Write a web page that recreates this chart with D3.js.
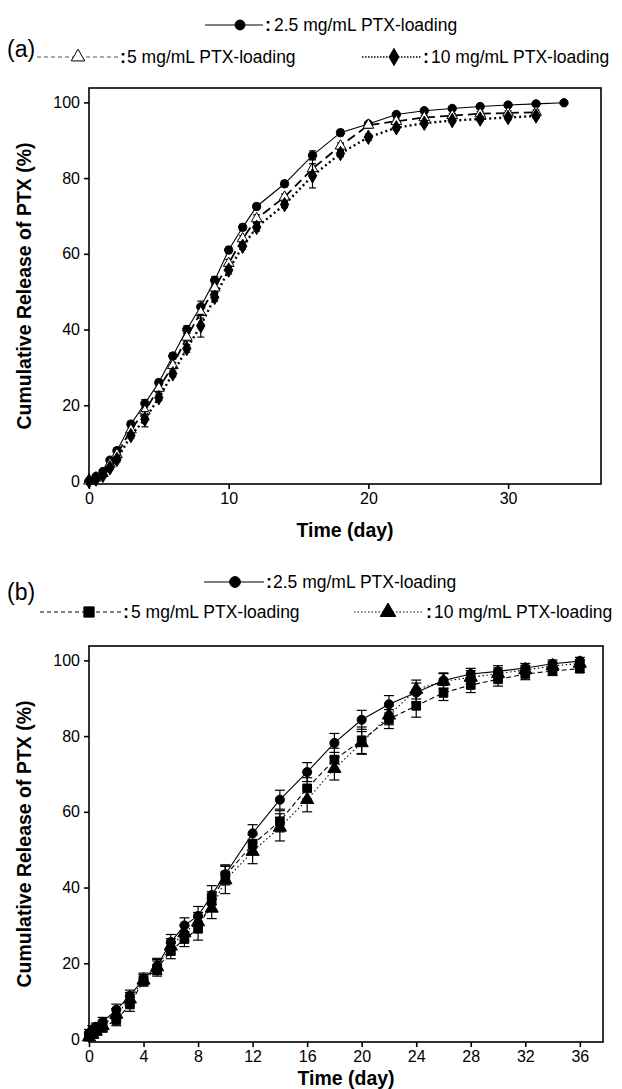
<!DOCTYPE html>
<html><head><meta charset="utf-8">
<script src="https://cdn.jsdelivr.net/npm/d3@7/dist/d3.min.js"></script>
<style>
body{margin:0;background:#fff}
svg{display:block}
text{font-family:"Liberation Sans",Arial,sans-serif;fill:#000}
</style>
</head><body>
<svg id="c" width="622" height="1089"></svg>
<script>
// ---------- Panel (a) data ----------
const daysA   = [0,0.5,1,1.5,2,3,4,5,6,7,8,9,10,11,12,14,16,18,20,22,24,26,28,30,32,34];
const a25     = [0,1.2,2.5,5.5,8,15,20.5,26,33,40,46,53,61,67,72.5,78.5,86,92,94.3,96.8,97.8,98.4,98.9,99.3,99.6,99.9];
const a25Err  = [0.3,0.4,0.5,0.6,0.8,0.8,1,0.8,0.8,1,1.5,1,0.8,0.8,0.8,0.8,1.2,0.8,0.6,0.5,0.5,0.5,0.5,0.5,0.5,0.4];
const daysA2  = [0,0.5,1,1.5,2,3,4,5,6,7,8,9,10,11,12,14,16,18,20,22,24,26,28,30,32];
const a5      = [0,0.8,2,4.5,7,13.5,18.5,24.5,30.5,38,44.5,51,57.5,64,69.3,75,82.5,88.5,94,95,96,96.5,97,97.2,97.4];
const a5Err   = [0.3,0.4,0.5,0.6,0.8,0.8,1.5,0.8,0.8,1,1.5,1,1,0.8,1,0.8,2.5,0.8,0.8,0.6,0.6,0.6,0.6,0.6,0.6];
const a10     = [0,0.5,1.5,3.5,5.7,12,16.3,22,28.3,35,41,48.5,55.7,62,67,73,80.6,86.5,90.8,93.3,94.5,95.2,95.6,96,96.4];
const a10Err  = [0.3,0.4,0.5,0.6,0.8,0.8,2,0.8,0.8,1,3,1,1,0.8,1,0.8,3.2,0.8,0.8,0.6,0.6,0.6,0.6,0.6,0.6];
const xTicksA = [0,10,20,30];
const yTicks  = [0,20,40,60,80,100];

// ---------- Panel (b) data ----------
const daysB   = [0,0.25,0.5,1,2,3,4,5,6,7,8,9,10,12,14,16,18,20,22,24,26,28,30,32,34,36];
const b25     = [1.5,2.5,3.2,4.5,7.7,11.4,15.9,19.3,25.6,30,32.5,38,43.5,54.3,63.2,70.5,78.2,84.3,88.4,91.5,94.7,96.4,97.1,98,99.1,99.8];
const b25Err  = [1,1,1,1.2,1.5,1.5,1.5,2,2,2,2.5,2.5,2.5,2.3,2.5,2.5,2.5,2.5,2.3,2.5,2,1.5,1.5,1.2,1,1];
const b5      = [0.8,1.5,2.2,3,5,9.1,15.5,18.6,23.2,26.4,29.1,36.4,43.2,51.4,57.5,66.2,73.8,78.9,84.5,88,91.4,93.5,95,96.4,97.2,97.8];
const b5Err   = [1,1,1,1.2,1.5,1.8,1.5,2,2,2,3,2.5,2.5,2.5,2.8,2.8,3,3.5,2.5,3,2,2,1.8,1.5,1.2,1];
const b10     = [0.5,1.2,2,3.5,6.5,10.5,15.5,19,24.5,28,30.9,34.5,42,49.5,55.9,63.2,71.4,78.2,85.5,92.3,94.5,95.5,96.5,97.5,98.5,99.2];
const b10Err  = [1,1,1,1.2,1.5,1.8,1.5,2,2,2,2.5,2.7,3.6,3.2,3.6,3.2,3,3,2.5,2.5,2,1.8,1.5,1.2,1,1];
const xTicksB = [0,4,8,12,16,20,24,28,32,36];

const svg = d3.select("#c");

function panel(cfg){
  const x = d3.scaleLinear().domain(cfg.xDomain).range([cfg.left, cfg.right]);
  const y = d3.scaleLinear().domain([-0.8,103.8]).range([cfg.bottom, cfg.top]);
  const g = svg.append("g");

  cfg.series.forEach(s=>{
    const pts = s.days.map((d,i)=>({d, v:s.vals[i], e:s.errs[i]}));
    g.append("path").datum(pts)
      .attr("fill","none").attr("stroke","#000")
      .attr("stroke-width",s.lw).attr("stroke-dasharray",s.dash||null)
      .attr("d", d3.line().x(p=>x(p.d)).y(p=>y(p.v)));
    const eb = g.append("g").attr("stroke","#000").attr("stroke-width",1.2);
    pts.forEach(p=>{
      eb.append("line").attr("x1",x(p.d)).attr("x2",x(p.d)).attr("y1",y(p.v-p.e)).attr("y2",y(p.v+p.e));
      [p.v-p.e,p.v+p.e].forEach(w=>eb.append("line").attr("x1",x(p.d)-cfg.cap).attr("x2",x(p.d)+cfg.cap).attr("y1",y(w)).attr("y2",y(w)));
    });
    g.append("g").selectAll("path").data(pts).join("path")
      .attr("transform",p=>`translate(${x(p.d)},${y(p.v)})`)
      .attr("d", d3.symbol().type(s.sym).size(s.size))
      .attr("fill", s.open ? "#fff" : "#000").attr("stroke","#000").attr("stroke-width",1);
  });

  g.append("rect").attr("x",cfg.left).attr("y",cfg.top)
    .attr("width",cfg.right-cfg.left).attr("height",cfg.bottom-cfg.top)
    .attr("fill","none").attr("stroke","#000").attr("stroke-width",1.6);

  const ax = g.append("g").attr("transform",`translate(0,${cfg.bottom})`)
    .call(d3.axisBottom(x).tickValues(cfg.xTicks).tickSize(5).tickPadding(4).tickSizeOuter(0));
  const ay = g.append("g").attr("transform",`translate(${cfg.left},0)`)
    .call(d3.axisLeft(y).tickValues(yTicks).tickSize(5).tickPadding(4).tickSizeOuter(0));
  [ax,ay].forEach(a=>{
    a.select(".domain").remove();
    a.selectAll(".tick line").attr("stroke","#000").attr("stroke-width",1.6);
    a.selectAll(".tick text").attr("font-size",16).attr("font-family","Liberation Sans, Arial, sans-serif").attr("fill","#000");
  });

  svg.append("text").attr("x",(cfg.left+cfg.right)/2).attr("y",cfg.xTitleY)
    .attr("text-anchor","middle").attr("font-weight","bold").attr("font-size",19.5).text("Time (day)");
  svg.append("text").attr("transform",`translate(31,${(cfg.top+cfg.bottom)/2}) rotate(-90)`)
    .attr("text-anchor","middle").attr("font-weight","bold").attr("font-size",19.5).text("Cumulative Release of PTX (%)");
  svg.append("text").attr("x",7).attr("y",cfg.tagY).attr("font-size",23).text(cfg.tag);

  cfg.legend.forEach(L=>{
    const s = cfg.series[L.s];
    svg.append("line").attr("x1",L.x1).attr("x2",L.x2).attr("y1",L.y).attr("y2",L.y)
      .attr("stroke",L.color||"#000").attr("stroke-width",L.lw||s.lw).attr("stroke-dasharray",L.dash||s.dash||null);
    svg.append("path").attr("transform",`translate(${L.mx},${L.y})`)
      .attr("d", d3.symbol().type(s.sym).size(L.msize||s.size*1.4))
      .attr("fill", s.open ? "#fff" : "#000").attr("stroke","#000").attr("stroke-width",1);
    svg.append("text").attr("x",L.x2+2).attr("y",L.y+6).attr("font-size",18).attr("font-weight","bold").text(":");
    svg.append("text").attr("x",L.tx).attr("y",L.y+6).attr("font-size",17.5).text(L.text);
  });
}

panel({
  left:89, right:601, top:88, bottom:484, xDomain:[0,36.65], xTicks:xTicksA, cap:3.5,
  xTitleY:537, tagY:57, tag:"(a)",
  series:[
    {days:daysA,  vals:a25, errs:a25Err, sym:d3.symbolCircle,   size:55, lw:1.1},
    {days:daysA2, vals:a5,  errs:a5Err,  sym:d3.symbolTriangle, size:50, lw:1.8, dash:"9,5", open:true},
    {days:daysA2, vals:a10, errs:a10Err, sym:d3.symbolDiamond,  size:60, lw:2.4, dash:"2,3"}
  ],
  legend:[
    {s:0, x1:205, x2:263, mx:240, y:25, tx:274, text:"2.5 mg/mL PTX-loading"},
    {s:1, x1:37,  x2:118, mx:78,  y:57, tx:127, text:"5 mg/mL PTX-loading", color:"#555", lw:1, dash:"4,3", msize:80},
    {s:2, x1:362, x2:421, mx:394, y:57, tx:431, text:"10 mg/mL PTX-loading", lw:1.5, dash:"1.5,1.5", msize:85}
  ]
});

panel({
  left:89, right:603, top:646, bottom:1042, xDomain:[0,37.7], xTicks:xTicksB, cap:5,
  xTitleY:1085, tagY:600, tag:"(b)",
  series:[
    {days:daysB, vals:b25, errs:b25Err, sym:d3.symbolCircle,   size:65, lw:1.1},
    {days:daysB, vals:b5,  errs:b5Err,  sym:d3.symbolSquare,   size:75, lw:1.1, dash:"5,3"},
    {days:daysB, vals:b10, errs:b10Err, sym:d3.symbolTriangle, size:75, lw:1.1, dash:"1.5,2.5"}
  ],
  legend:[
    {s:0, x1:204, x2:264, mx:235, y:582, tx:273, text:"2.5 mg/mL  PTX-loading"},
    {s:1, x1:40,  x2:121, mx:89,  y:612, tx:131, text:"5 mg/mL  PTX-loading", lw:1, dash:"4,3"},
    {s:2, x1:354, x2:424, mx:388, y:612, tx:434, text:"10 mg/mL  PTX-loading", lw:1, dash:"1.5,2"}
  ]
});
</script>
</body></html>
